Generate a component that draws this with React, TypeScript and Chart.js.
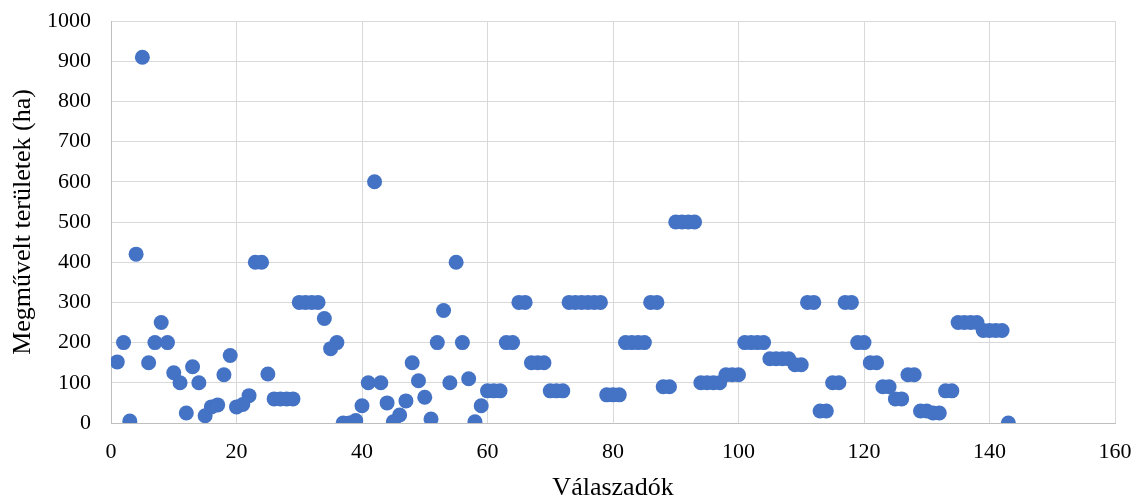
import React, { useEffect, useRef } from "react";
import { Chart, registerables } from "chart.js";

Chart.register(...registerables);

// Respondent index (1..143)
const respondents: number[] = Array.from({ length: 143 }, (_, i) => i + 1);

// Cultivated area (ha) per respondent
const areaHa: number[] = [
  152, 200, 5, 420, 910, 150, 200, 250, 200, 125,
  100, 25, 140, 100, 18, 40, 45, 120, 168, 40,
  46, 68, 400, 400, 122, 60, 60, 60, 60, 300,
  300, 300, 300, 260, 185, 200, 0, 0, 6, 43,
  100, 600, 100, 50, 3, 20, 55, 150, 105, 64,
  10, 200, 280, 100, 400, 200, 110, 3, 43, 80,
  80, 80, 200, 200, 300, 300, 150, 150, 150, 80,
  80, 80, 300, 300, 300, 300, 300, 300, 70, 70,
  70, 200, 200, 200, 200, 300, 300, 90, 90, 500,
  500, 500, 500, 100, 100, 100, 100, 120, 120, 120,
  200, 200, 200, 200, 160, 160, 160, 160, 145, 145,
  300, 300, 30, 30, 100, 100, 300, 300, 200, 200,
  150, 150, 90, 90, 60, 60, 120, 120, 30, 30,
  25, 25, 80, 80, 250, 250, 250, 250, 230, 230,
  230, 230, 0,
];

const xTitle = "Válaszadók";
const yTitle = "Megművelt területek (ha)";

const xMin = 0, xMax = 160, xStep = 20;
const yMin = 0, yMax = 1000, yStep = 100;

export default function App() {
  const canvasRef = useRef<HTMLCanvasElement | null>(null);

  useEffect(() => {
    document.body.style.margin = "0";
    const canvas = canvasRef.current;
    if (!canvas) return;
    const font = "'Liberation Serif', 'Times New Roman', serif";
    const chart = new Chart(canvas, {
      type: "scatter",
      data: {
        datasets: [
          {
            label: yTitle,
            data: respondents.map((r, i) => ({ x: r, y: areaHa[i] })),
            backgroundColor: "#4472C4",
            borderColor: "#4472C4",
            pointRadius: 7.5,
            pointHoverRadius: 7.5,
            borderWidth: 0,
          },
        ],
      },
      options: {
        animation: false,
        responsive: false,
        maintainAspectRatio: false,
        layout: { padding: { left: 0, right: 19, top: 21, bottom: 0 } },
        plugins: {
          legend: { display: false },
          tooltip: { enabled: false },
        },
        scales: {
          x: {
            type: "linear",
            min: xMin,
            max: xMax,
            ticks: { stepSize: xStep, color: "#000", font: { family: font, size: 22 }, padding: 0 },
            grid: { color: "#D9D9D9", lineWidth: 1, drawTicks: true, tickLength: 16, tickColor: "rgba(0,0,0,0)" },
            border: { color: "#BFBFBF", width: 1 },
            title: { display: true, text: xTitle, color: "#000", font: { family: font, size: 26, lineHeight: 1 }, padding: { top: 4, bottom: -2 } },
            afterFit: (scale: any) => { scale.height = 76; },
          },
          y: {
            type: "linear",
            min: yMin,
            max: yMax,
            ticks: {
              stepSize: yStep,
              color: "#000",
              font: { family: font, size: 22 },
              padding: 0,
              callback: (v: any) => String(v),
            },
            grid: { color: "#D9D9D9", lineWidth: 1, drawTicks: true, tickLength: 20, tickColor: "rgba(0,0,0,0)" },
            border: { color: "#BFBFBF", width: 1 },
            title: { display: true, text: yTitle, color: "#000", font: { family: font, size: 26 }, padding: { top: 8, bottom: 4 } },
            afterFit: (scale: any) => { scale.width = 111; },
          },
        },
      },
    });
    return () => chart.destroy();
  }, []);

  return (
    <div style={{ width: 1134, height: 499, background: "#fff" }}>
      <canvas ref={canvasRef} width={1134} height={499} style={{ display: "block" }} />
    </div>
  );
}
